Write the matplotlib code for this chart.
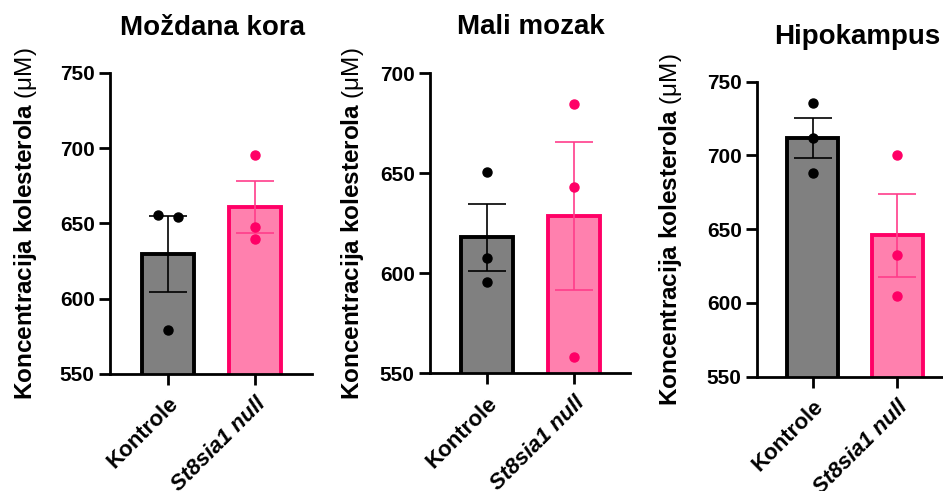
import matplotlib
matplotlib.use("Agg")
import matplotlib.pyplot as plt
import matplotlib.transforms as mtransforms
import numpy as np

plt.rcParams['font.family'] = ['Liberation Sans', 'DejaVu Sans']
plt.rcParams['mathtext.fontset'] = 'custom'
plt.rcParams['mathtext.rm'] = 'Liberation Sans'
plt.rcParams['mathtext.bf'] = 'Liberation Sans:bold'
plt.rcParams['mathtext.it'] = 'Liberation Sans:italic'

# ---- data ----
groups = ["Kontrole", "St8sia1 null"]
titles = ["Moždana kora", "Mali mozak", "Hipokampus"]

cortex_means = [629.7, 661.0]
cortex_sem = [25.3, 17.2]
cortex_ctrl_points = [655.5, 654.5, 579.0]
cortex_null_points = [695.5, 648.0, 639.5]

cereb_means = [618.0, 628.8]
cereb_sem = [16.7, 37.1]
cereb_ctrl_points = [650.7, 607.7, 595.8]
cereb_null_points = [684.7, 643.3, 558.3]

hippo_means = [711.9, 645.8]
hippo_sem = [13.7, 28.4]
hippo_ctrl_points = [735.8, 712.0, 687.9]
hippo_null_points = [700.6, 632.2, 604.5]

ylims = [(550, 750), (550, 700), (550, 750)]
yticks = [[550, 600, 650, 700, 750], [550, 600, 650, 700], [550, 600, 650, 700, 750]]

# ---- styling ----
fill_colors = ["#808080", "#FF80AE"]
edge_colors = ["#000000", "#FF0066"]
err_colors = ["#000000", "#FF3D8B"]
point_colors = ["#000000", "#FF0066"]

W, H = 943, 491
fig = plt.figure(figsize=(W / 100, H / 100), dpi=100)

# axes boxes in pixels: left, right, top, bottom
boxes = [(110, 312, 73, 374), (430, 630, 73.3, 373.3), (757, 943, 81.7, 376.7)]
xlims = [(-0.667, 1.655), (-0.65, 1.64), (-0.66, 1.54)]
title_pos = [(213, 28), (531, 27), (857, 37)]
ylabel_x = [26, 352, 671]
jitters = [[[-0.11, 0.11, 0.0], [0, 0, 0]], [[0, 0, 0], [0, 0, 0]], [[0, 0, 0], [0, 0, 0]]]

panels = [
    (cortex_means, cortex_sem, [cortex_ctrl_points, cortex_null_points]),
    (cereb_means, cereb_sem, [cereb_ctrl_points, cereb_null_points]),
    (hippo_means, hippo_sem, [hippo_ctrl_points, hippo_null_points]),
]

shift = mtransforms.ScaledTranslation(-6 / 100, 0, fig.dpi_scale_trans)

for i, (means, sems, pts) in enumerate(panels):
    l, r, t, b = boxes[i]
    ax = fig.add_axes([l / W, 1 - b / H, (r - l) / W, (b - t) / H])
    xs = np.arange(len(groups))
    for j in range(len(groups)):
        ax.bar(xs[j], means[j], width=0.6, bottom=0, color=fill_colors[j],
               edgecolor=edge_colors[j], linewidth=2.8, zorder=2)
        ax.errorbar(xs[j], means[j], yerr=sems[j], color=err_colors[j],
                    elinewidth=1.2, capsize=14, capthick=1.2, zorder=3, fmt='none')
        px = xs[j] + np.array(jitters[i][j])
        ax.plot(px, pts[j], 'o', color=point_colors[j], markersize=6.5, zorder=4,
                clip_on=False)
    ax.set_ylim(*ylims[i])
    ax.set_xlim(*xlims[i])
    ax.set_yticks(yticks[i])
    ax.set_yticklabels([str(v) for v in yticks[i]], fontsize=15, fontweight='bold')
    ax.set_xticks(xs)
    labs = ax.set_xticklabels(groups, fontsize=16, fontweight='bold', rotation=45,
                              ha='right', rotation_mode='anchor')
    labs[1].set_fontstyle('italic')
    for lab in labs:
        lab.set_transform(lab.get_transform() + shift)
    for s in ['top', 'right']:
        ax.spines[s].set_visible(False)
    for s in ['left', 'bottom']:
        ax.spines[s].set_linewidth(2.0)
    ax.tick_params(axis='both', length=8, width=2.0, pad=3)
    ax.tick_params(axis='x', pad=6)
    fig.text(title_pos[i][0] / W, 1 - title_pos[i][1] / H, titles[i],
             fontsize=20, fontweight='bold', ha='center', va='center')
    fig.text(ylabel_x[i] / W, 1 - ((t + b) / 2) / H,
             r"$\mathbf{Koncentracija\ kolesterola}$ (μM)",
             fontsize=17.5, rotation=90, ha='center', va='center')

fig.savefig("out.png", dpi=100)
